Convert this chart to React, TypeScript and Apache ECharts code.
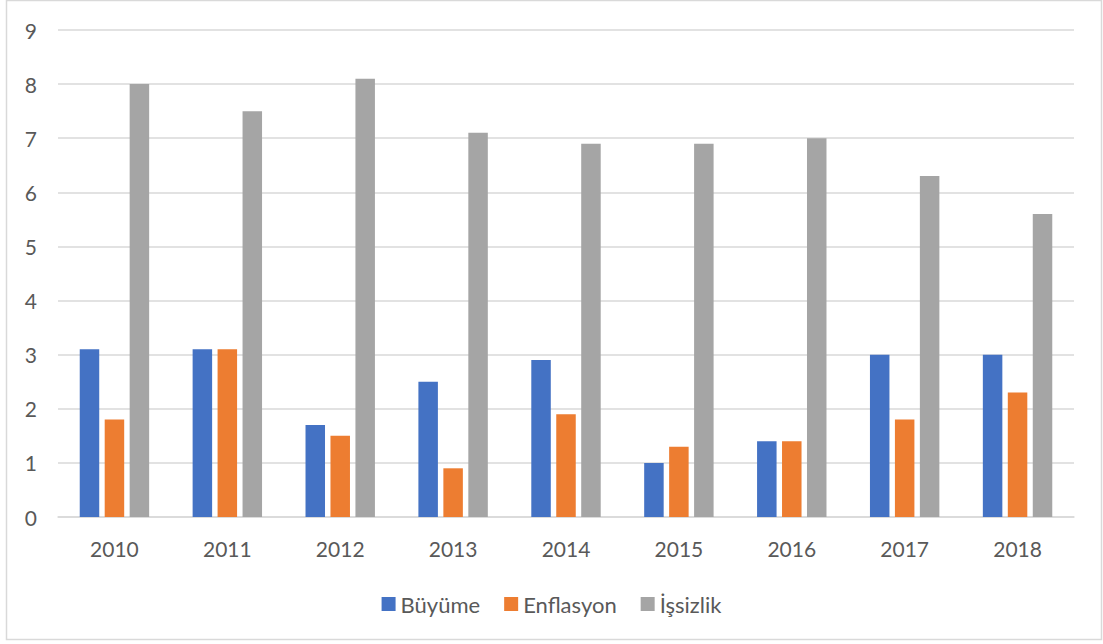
import React, { useEffect, useRef } from "react";
import * as echarts from "echarts";

const years = ["2010", "2011", "2012", "2013", "2014", "2015", "2016", "2017", "2018"];
const buyume = [3.1, 3.1, 1.7, 2.5, 2.9, 1.0, 1.4, 3.0, 3.0];
const enflasyon = [1.8, 3.1, 1.5, 0.9, 1.9, 1.3, 1.4, 1.8, 2.3];
const issizlik = [8.0, 7.5, 8.1, 7.1, 6.9, 6.9, 7.0, 6.3, 5.6];

const FONT = "Lato, 'Noto Sans', sans-serif";
const TEXT = "#595959";

export default function App() {
  const ref = useRef<HTMLDivElement>(null);

  useEffect(() => {
    document.body.style.margin = "0";
    const chart = echarts.init(ref.current!, undefined, { renderer: "svg" });
    const bar = (name: string, data: number[], color: string) => ({
      name,
      type: "bar",
      data,
      barWidth: 19.5,
      barGap: "28%",
      itemStyle: { color },
    });
    chart.setOption({
      animation: false,
      backgroundColor: "#ffffff",
      textStyle: { fontFamily: FONT },
      graphic: [
        {
          type: "rect",
          shape: { x: 6.5, y: 0.5, width: 1095, height: 639 },
          style: { fill: "none", stroke: "#d9d9d9", lineWidth: 1.5 },
          silent: true,
        },
      ],
      grid: { left: 58, right: 29, top: 30, bottom: 127 },
      legend: {
        top: 588,
        left: "center",
        itemWidth: 14,
        itemHeight: 14,
        itemGap: 24,
        icon: "rect",
        textStyle: { color: TEXT, fontSize: 22, fontFamily: FONT },
        data: ["Büyüme", "Enflasyon", "İşsizlik"],
      },
      xAxis: {
        type: "category",
        data: years,
        axisLine: { lineStyle: { color: "#d9d9d9", width: 1.5 } },
        axisTick: { show: false },
        axisLabel: { color: TEXT, fontSize: 21, margin: 21, fontFamily: FONT },
      },
      yAxis: {
        type: "value",
        min: 0,
        max: 9,
        interval: 1,
        axisLine: { show: false },
        axisTick: { show: false },
        splitLine: { lineStyle: { color: "#d9d9d9", width: 1.5 } },
        axisLabel: { color: TEXT, fontSize: 21, margin: 21, fontFamily: FONT },
      },
      series: [
        bar("Büyüme", buyume, "#4472c4"),
        bar("Enflasyon", enflasyon, "#ed7d31"),
        bar("İşsizlik", issizlik, "#a5a5a5"),
      ],
    });
    return () => chart.dispose();
  }, []);

  return <div ref={ref} style={{ width: 1103, height: 644 }} />;
}
